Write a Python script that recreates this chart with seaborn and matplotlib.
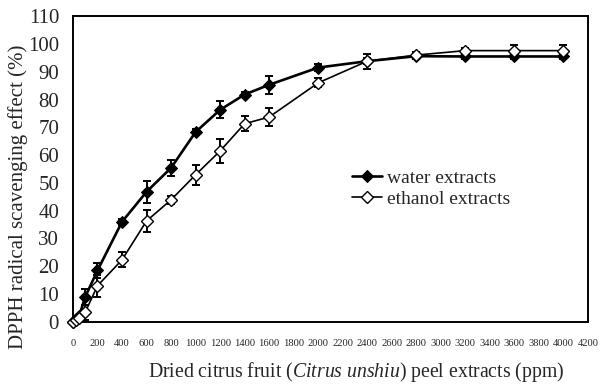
import matplotlib
matplotlib.use("Agg")
import matplotlib.pyplot as plt
import seaborn as sns
import pandas as pd
import numpy as np

# Data
conc = [0, 25, 50, 100, 200, 400, 600, 800, 1000, 1200, 1400, 1600, 2000, 2400, 2800, 3200, 3600, 4000]
water = [0, 1.0, 2.0, 9.0, 18.5, 36.0, 46.8, 55.4, 68.3, 76.3, 81.8, 85.3, 91.5, 93.8, 95.6, 95.5, 95.5, 95.5]
water_err = [0.3, 0.5, 0.5, 3.0, 2.7, 1.0, 4.0, 3.0, 1.0, 3.0, 1.0, 3.3, 1.2, 1.0, 1.0, 1.0, 1.0, 1.0]
ethanol = [0, 0.5, 1.5, 3.5, 13.0, 22.3, 36.3, 43.9, 52.9, 61.5, 71.3, 73.7, 86.0, 93.8, 96.0, 97.6, 97.6, 97.6]
ethanol_err = [0.3, 0.5, 0.5, 2.7, 4.0, 2.7, 4.0, 1.5, 3.6, 4.2, 2.7, 3.2, 1.6, 2.7, 1.0, 1.0, 2.0, 2.0]
series = ["water extracts", "ethanol extracts"]
xticks = list(range(0, 4201, 200))
yticks = list(range(0, 111, 10))

sns.set_theme(style="white")
plt.rcParams['font.family'] = ['Liberation Serif', 'DejaVu Serif']
plt.rcParams['mathtext.fontset'] = 'custom'
plt.rcParams['mathtext.rm'] = 'Liberation Serif'
plt.rcParams['mathtext.it'] = 'Liberation Serif:italic'

df = pd.DataFrame({
    "conc": conc * 2,
    "value": water + ethanol,
    "series": [series[0]] * len(conc) + [series[1]] * len(conc),
})

fig = plt.figure(figsize=(6.03, 3.85), dpi=100)
ax = fig.add_axes([0.121, 0.164, 0.854, 0.794])

# error bars
ax.errorbar(conc, water, yerr=water_err, fmt='none', ecolor='black', elinewidth=1.4, capsize=3.2, capthick=1.4, zorder=2)
ax.errorbar(conc, ethanol, yerr=ethanol_err, fmt='none', ecolor='black', elinewidth=1.4, capsize=3.2, capthick=1.4, zorder=2)

sns.lineplot(data=df[df.series == series[0]], x="conc", y="value", ax=ax, color='black',
             marker='D', markersize=6.2, markerfacecolor='black', markeredgecolor='black',
             linewidth=1.9, label=series[0], zorder=3, clip_on=False)
sns.lineplot(data=df[df.series == series[1]], x="conc", y="value", ax=ax, color='black',
             marker='D', markersize=6.2, markerfacecolor='white', markeredgecolor='black',
             markeredgewidth=1.0, linewidth=1.2, label=series[1], zorder=4, clip_on=False)

ax.set_xlim(0, 4200)
ax.set_ylim(0, 110)
ax.set_xticks(xticks)
ax.set_xticklabels([str(t) for t in xticks], fontsize=7.6)
ax.set_yticks(yticks)
ax.set_yticklabels([str(t) for t in yticks], fontsize=15)
ax.tick_params(axis='x', direction='in', length=3, width=1, pad=12, color='black')
ax.tick_params(axis='y', direction='in', length=3, width=1, pad=10, color='black')
for s in ax.spines.values():
    s.set_color('black')
    s.set_linewidth(1.4)

ax.set_xlabel('')
ax.set_ylabel('')
fig.text(356 / 603, 1 - 377 / 385, r'Dried citrus fruit ($\it{Citrus\ unshiu}$) peel extracts (ppm)',
         fontsize=14.2, ha='center', va='baseline')
fig.text(18 / 603, 1 - 197 / 385, 'DPPH radical scavenging effect (%)', fontsize=15,
         rotation=90, ha='center', va='center')

leg = ax.legend(loc='upper left', bbox_to_anchor=(0.527, 0.525), frameon=False, fontsize=14,
                handlelength=1.55, handletextpad=0.25, labelspacing=0.2, borderaxespad=0)

fig.savefig("out.png", dpi=100)
